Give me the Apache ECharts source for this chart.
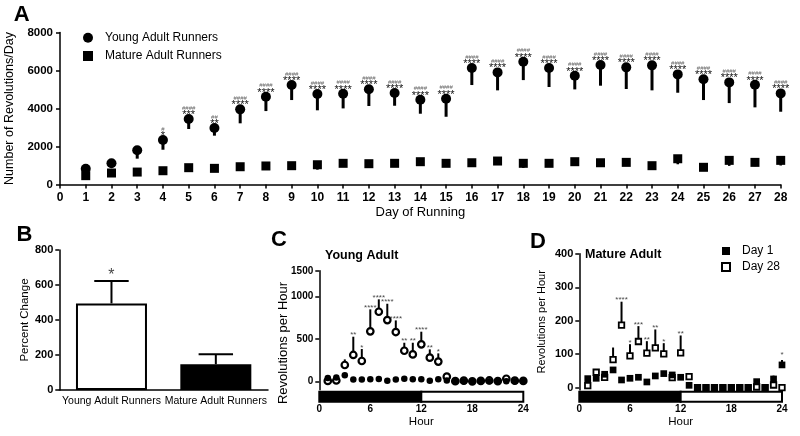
<!DOCTYPE html>
<html><head><meta charset="utf-8">
<script src="https://cdn.jsdelivr.net/npm/echarts@6/dist/echarts.min.js"></script>
<style>html,body{margin:0;padding:0;background:#fff}#c{width:800px;height:436px}</style>
</head><body><div id="c"></div>
<script>
// ---------- Panel A ----------
const days = [1,2,3,4,5,6,7,8,9,10,11,12,13,14,15,16,17,18,19,20,21,22,23,24,25,26,27,28];
const youngMean = [830,1115,1800,2340,3445,2970,3955,4620,5235,4760,4775,5010,4815,4460,4515,6130,5900,6460,6130,5720,6290,6165,6270,5795,5535,5375,5250,4795];
const youngErr = [60,80,440,510,525,400,735,755,790,855,770,880,670,735,950,895,945,965,1000,715,1090,1140,1315,965,1090,1090,1190,965];
const matureMean = [465,605,655,725,885,850,935,975,990,1040,1115,1095,1115,1200,1115,1145,1235,1115,1115,1200,1145,1165,990,1355,905,1270,1165,1270];
const matureErr = [100,120,100,150,180,150,150,150,150,260,150,150,150,150,150,150,150,240,150,150,150,150,150,290,150,290,200,270];
const youngHash = ['','','','#','####','##','####','####','####','####','####','####','####','####','####','####','####','####','####','####','####','####','####','####','####','####','####','####'];
const youngStars = ['','','','*','***','**','****','****','****','****','****','****','****','****','****','****','****','****','****','****','****','****','****','****','****','****','****','****'];
// ---------- Panel B ----------
const pctCategories = ['Young Adult Runners','Mature Adult Runners'];
const pctMean = [495,147];
const pctErr = [128,57];
const pctSig = ['*',''];
// ---------- Panels C & D ----------
const hours = [1,2,3,4,5,6,7,8,9,10,11,12,13,14,15,16,17,18,19,20,21,22,23,24];
const cDay1 = [40,45,70,20,20,25,28,6,20,30,25,25,8,25,10,2,0,0,0,0,0,0,0,0];
const cDay28 = [5,10,192,310,239,588,819,721,580,360,317,435,278,232,55,2,8,0,5,10,3,30,8,5];
const cDay28Err = [5,10,66,215,141,259,146,192,137,94,137,149,98,97,20,0,0,0,0,0,0,0,0,0];
const cSig = ['','','','**','*','****','****','****','****','**','**','****','**','*','','','','','','','','','',''];
const dDay1 = [27,28,40,53,23,28,31,17,35,42,38,31,7,0,0,0,0,0,0,0,18,0,26,68];
const dDay1Err = [0,0,0,8,0,0,0,0,5,8,0,0,0,0,0,0,0,0,0,0,0,0,10,15];
const dDay28 = [6,46,31,84,187,95,138,103,119,101,30,104,33,0,0,0,0,0,0,0,2,0,8,0];
const dDay28Err = [0,8,0,36,70,35,46,36,55,32,5,52,0,0,0,0,0,0,0,0,0,0,0,0];
const dSig28 = ['','','','','****','*','***','**','**','*','','**','','','','','','','','','','','',''];
const dSig1 = ['','','','','','','','','','','','','','','','','','','','','','','','*'];
const lightDark = [[0,12,1],[12,24,0]]; // start hour, end hour, dark?
const cTickValues = [0,500,1000,1300];
const cTickLabels = ['0','500','1000','1500'];
const dTickValues = [0,100,200,300,400];

const FONT = '"Liberation Sans", Arial, sans-serif';
const K = '#000';
const aLine = {show:true, onZero:false, lineStyle:{color:K, width:1.5}};
const aTick = {show:true, length:4, lineStyle:{color:K, width:1.5}};
const plain = v => String(v);

function errRender(dir, lw, capFrac) {
  return function (params, api) {
    const x = api.value(0), m = api.value(1), e = api.value(2);
    const p1 = api.coord([x, m]);
    const p2 = api.coord([x, m + dir * e]);
    const ch = [{type:'line', shape:{x1:p1[0], y1:p1[1], x2:p2[0], y2:p2[1]}, style:{stroke:K, lineWidth:lw}}];
    if (capFrac) {
      const w = api.size([1, 0])[0] * capFrac;
      ch.push({type:'line', shape:{x1:p2[0]-w/2, y1:p2[1], x2:p2[0]+w/2, y2:p2[1]}, style:{stroke:K, lineWidth:lw}});
    }
    return {type:'group', children:ch};
  };
}
function ldRender(params, api) {
  const p0 = api.coord([api.value(0), 1]);
  const p1 = api.coord([api.value(1), 0]);
  return {type:'rect', shape:{x:p0[0], y:p0[1], width:p1[0]-p0[0], height:p1[1]-p0[1]},
          style:{fill: api.value(2) ? K : '#fff', stroke:K, lineWidth:2}};
}
function sigSeries(xi, yi, xs, means, errs, sigs, fs, off) {
  return {type:'scatter', xAxisIndex:xi, yAxisIndex:yi, silent:true, symbolSize:1, z:5,
    itemStyle:{color:'rgba(0,0,0,0)'},
    data: xs.map((x,i)=>({value:[x, means[i]+errs[i]], sig:sigs[i]})).filter(d=>d.sig),
    label:{show:true, position:'inside', offset:off, fontSize:fs, lineHeight:fs, color:'#111', fontFamily:FONT,
      formatter:p=>p.data.sig}};
}

const chart = echarts.init(document.getElementById('c'), null, {width:800, height:436});
const option = {
  animation:false,
  backgroundColor:'#fff',
  textStyle:{fontFamily:FONT},
  grid:[
    {left:60, top:32.5, width:720.7, height:152, outerBoundsMode:'none'},
    {left:59.3, top:250, width:208.7, height:140, outerBoundsMode:'none'},
    {left:319.3, top:270.8, width:204, height:119, outerBoundsMode:'none'},
    {left:319.3, top:391.7, width:204, height:10, outerBoundsMode:'none'},
    {left:579.3, top:253.7, width:202.7, height:136.3, outerBoundsMode:'none'},
    {left:579.3, top:391.7, width:202.7, height:10, outerBoundsMode:'none'}
  ],
  legend:[
    {left:83, top:30.7, padding:0, orient:'vertical', itemWidth:10, itemHeight:10, itemGap:4.3, selectedMode:false,
     textStyle:{fontSize:12, lineHeight:14, color:K, padding:[0,0,0,7], fontFamily:FONT},
     data:[{name:'Young Adult Runners', icon:'circle', itemStyle:{color:K}},
           {name:'Mature Adult Runners', icon:'rect', itemStyle:{color:K}}]},
    {left:721, top:244, padding:0, orient:'vertical', itemWidth:8, itemHeight:8, itemGap:2, selectedMode:false,
     textStyle:{fontSize:12, lineHeight:14, color:K, padding:[0,0,0,7], fontFamily:FONT},
     data:[{name:'Day 1', icon:'rect', itemStyle:{color:K, borderWidth:0}},
           {name:'Day 28', icon:'rect', itemStyle:{color:'#fff', borderColor:K, borderWidth:2}}]}
  ],
  xAxis:[
    {gridIndex:0, type:'value', min:0, max:28, interval:1, axisLine:aLine, axisTick:aTick, splitLine:{show:false},
     axisLabel:{color:K, fontWeight:'bold', fontSize:12, margin:7, formatter:plain},
     name:'Day of Running', nameLocation:'middle', nameGap:21, nameTextStyle:{color:K, fontSize:13}},
    {gridIndex:1, type:'category', data:pctCategories, axisLine:aLine, axisTick:{show:false}, splitLine:{show:false},
     axisLabel:{color:K, fontSize:10.5, margin:6, interval:0}},
    {gridIndex:2, type:'value', min:0, max:24, show:false},
    {gridIndex:3, type:'value', min:0, max:24, interval:6, axisLine:{show:false}, axisTick:{show:false}, splitLine:{show:false},
     axisLabel:{color:K, fontWeight:'bold', fontSize:10, margin:3, formatter:plain},
     name:'Hour', nameLocation:'middle', nameGap:11, nameTextStyle:{color:K, fontSize:11.5}},
    {gridIndex:4, type:'value', min:0, max:24, show:false},
    {gridIndex:5, type:'value', min:0, max:24, interval:6, axisLine:{show:false}, axisTick:{show:false}, splitLine:{show:false},
     axisLabel:{color:K, fontWeight:'bold', fontSize:10, margin:3, formatter:plain},
     name:'Hour', nameLocation:'middle', nameGap:11, nameTextStyle:{color:K, fontSize:11.5}}
  ],
  yAxis:[
    {gridIndex:0, type:'value', min:0, max:8000, interval:2000, axisLine:aLine, axisTick:aTick, splitLine:{show:false},
     axisLabel:{color:K, fontWeight:'bold', fontSize:11.5, margin:7, formatter:plain},
     name:'Number of Revolutions/Day', nameLocation:'middle', nameGap:39.5, nameTextStyle:{color:K, fontSize:12.5}},
    {gridIndex:1, type:'value', min:0, max:800, interval:200, axisLine:aLine, axisTick:aTick, splitLine:{show:false},
     axisLabel:{color:K, fontWeight:'bold', fontSize:11, margin:6, formatter:plain},
     name:'Percent Change', nameLocation:'middle', nameGap:26, nameTextStyle:{color:K, fontSize:11.5}},
    {gridIndex:2, type:'value', min:-100, max:1301, axisLine:aLine, splitLine:{show:false},
     axisTick:{show:true, length:4, lineStyle:{color:K, width:1.5}, customValues:cTickValues},
     axisLabel:{color:K, fontWeight:'bold', fontSize:10, margin:6, customValues:cTickValues, showMaxLabel:true,
       formatter:v=>cTickLabels[cTickValues.indexOf(v)]}},
    {gridIndex:3, type:'value', min:0, max:1, show:false},
    {gridIndex:4, type:'value', min:-7, max:400.5, axisLine:aLine, splitLine:{show:false},
     axisTick:{show:true, length:4, lineStyle:{color:K, width:1.5}, customValues:dTickValues},
     axisLabel:{color:K, fontWeight:'bold', fontSize:11, margin:6, customValues:dTickValues, showMaxLabel:true, formatter:plain},
     name:'Revolutions per Hour', nameLocation:'middle', nameGap:31.5, nameTextStyle:{color:K, fontSize:11}},
    {gridIndex:5, type:'value', min:0, max:1, show:false}
  ],
  graphic:[
    {type:'text', x:21.7, y:14.7, style:{text:'A', font:'bold 22px '+FONT, fill:K, align:'center', verticalAlign:'middle'}},
    {type:'text', x:24.5, y:235, style:{text:'B', font:'bold 22px '+FONT, fill:K, align:'center', verticalAlign:'middle'}},
    {type:'text', x:279, y:239.5, style:{text:'C', font:'bold 22px '+FONT, fill:K, align:'center', verticalAlign:'middle'}},
    {type:'text', x:538, y:241.5, style:{text:'D', font:'bold 22px '+FONT, fill:K, align:'center', verticalAlign:'middle'}},
    {type:'text', x:325, y:256, style:{text:'Young Adult', font:'bold 12.5px '+FONT, fill:K, align:'left', verticalAlign:'middle'}},
    {type:'text', x:585, y:254.5, style:{text:'Mature Adult', font:'bold 12.5px '+FONT, fill:K, align:'left', verticalAlign:'middle'}},
    {type:'text', x:283, y:343, rotation:Math.PI/2, style:{text:'Revolutions per Hour', font:'13px '+FONT, fill:K, align:'center', verticalAlign:'middle'}}
  ],
  series:[
    // A
    {type:'custom', xAxisIndex:0, yAxisIndex:0, z:1, silent:true, renderItem:errRender(-1, 3),
     data:days.map((d,i)=>[d, youngMean[i], youngErr[i]])},
    {type:'custom', xAxisIndex:0, yAxisIndex:0, z:1, silent:true, renderItem:errRender(-1, 2.5),
     data:days.map((d,i)=>[d, matureMean[i], matureErr[i]])},
    {name:'Young Adult Runners', type:'scatter', xAxisIndex:0, yAxisIndex:0, z:3, symbol:'circle', symbolSize:10,
     itemStyle:{color:K, opacity:1},
     data:days.map((d,i)=>[d, youngMean[i]]),
     label:{show:true, position:'inside', offset:[0,-7],
       formatter:p=>youngStars[p.dataIndex] ? '{h|'+youngHash[p.dataIndex]+'}\n{s|'+youngStars[p.dataIndex]+'}' : '',
       rich:{h:{fontSize:6, lineHeight:6, color:'#666', fontFamily:FONT}, s:{fontSize:11, lineHeight:8, color:'#111', fontFamily:FONT}}}},
    {name:'Mature Adult Runners', type:'scatter', xAxisIndex:0, yAxisIndex:0, z:3, symbol:'rect', symbolSize:9,
     itemStyle:{color:K, opacity:1},
     data:days.map((d,i)=>[d, matureMean[i]])},
    // B
    {type:'bar', xAxisIndex:1, yAxisIndex:1, barWidth:71, z:2, silent:true,
     data:pctMean.map((v,i)=>({value:v, itemStyle:{color:i===0?'#fff':K, borderColor:K, borderWidth:2}}))},
    {type:'custom', xAxisIndex:1, yAxisIndex:1, z:1, silent:true, renderItem:errRender(1, 2, 0.33),
     data:pctMean.map((v,i)=>[i, v, pctErr[i]])},
    sigSeries(1, 1, [0,1], pctMean, pctErr, pctSig, 16, [0,-5]),
    // C
    {type:'custom', xAxisIndex:3, yAxisIndex:3, silent:true, renderItem:ldRender, data:lightDark},
    {type:'custom', xAxisIndex:2, yAxisIndex:2, z:1, silent:true, renderItem:errRender(1, 2),
     data:hours.map((h,i)=>[h, cDay28[i], cDay28Err[i]])},
    {name:'C Day 28', type:'scatter', xAxisIndex:2, yAxisIndex:2, z:3, symbol:'circle', symbolSize:6.5,
     itemStyle:{color:'#fff', borderColor:K, borderWidth:2.2, opacity:1},
     data:hours.map((h,i)=>[h, cDay28[i]])},
    {name:'C Day 1', type:'scatter', xAxisIndex:2, yAxisIndex:2, z:4, symbol:'circle', symbolSize:6.5,
     itemStyle:{color:K, opacity:1},
     data:hours.map((h,i)=>[h, cDay1[i]])},
    sigSeries(2, 2, hours, cDay28, cDay28Err, cSig, 8, [0,-1.5]),
    // D
    {type:'custom', xAxisIndex:5, yAxisIndex:5, silent:true, renderItem:ldRender, data:lightDark},
    {type:'custom', xAxisIndex:4, yAxisIndex:4, z:1, silent:true, renderItem:errRender(1, 2),
     data:hours.map((h,i)=>[h, dDay28[i], dDay28Err[i]])},
    {type:'custom', xAxisIndex:4, yAxisIndex:4, z:1, silent:true, renderItem:errRender(1, 2),
     data:hours.map((h,i)=>[h, dDay1[i], dDay1Err[i]])},
    {name:'Day 28', type:'scatter', xAxisIndex:4, yAxisIndex:4, z:3, symbol:'rect', symbolSize:5.5,
     itemStyle:{color:'#fff', borderColor:K, borderWidth:1.8, opacity:1},
     data:hours.map((h,i)=>[h, dDay28[i]])},
    {name:'Day 1', type:'scatter', xAxisIndex:4, yAxisIndex:4, z:4, symbol:'rect', symbolSize:6.7,
     itemStyle:{color:K, opacity:1},
     data:hours.map((h,i)=>[h, dDay1[i]])},
    sigSeries(4, 4, hours, dDay28, dDay28Err, dSig28, 8, [0,-1.5]),
    sigSeries(4, 4, hours, dDay1, dDay1Err, dSig1, 8, [0,-5])
  ]
};
chart.setOption(option);
</script></body></html>
